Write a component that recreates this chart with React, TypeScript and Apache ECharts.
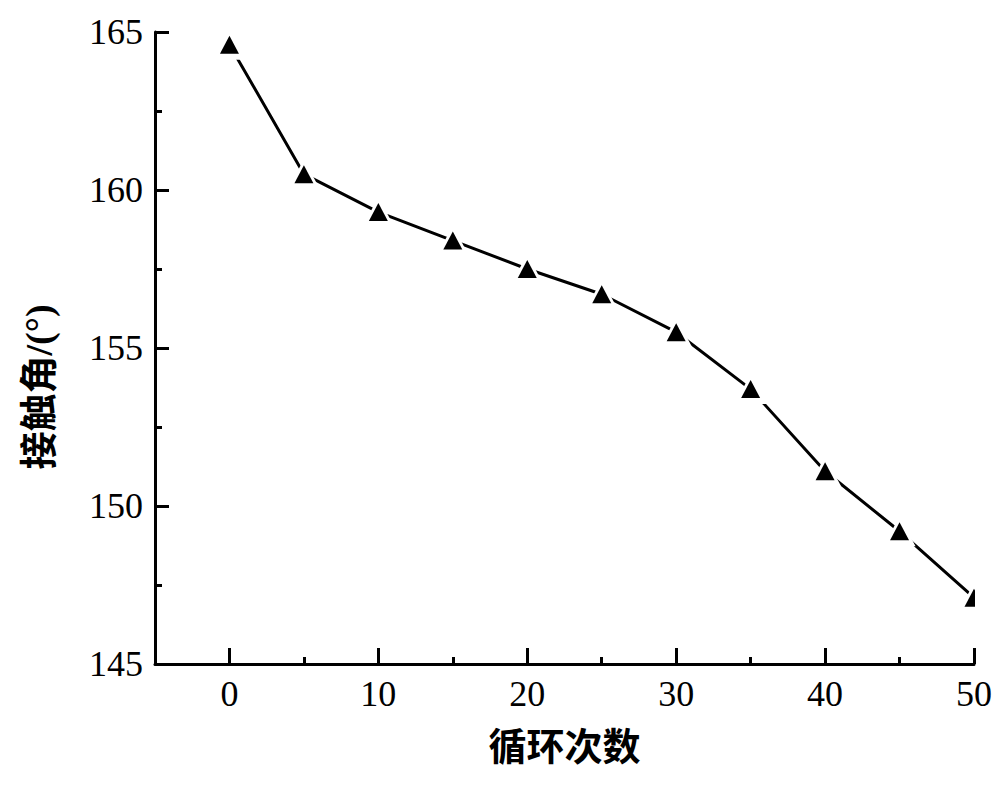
import React, { useEffect, useRef } from "react";
import * as echarts from "echarts";

const cycles = [0, 5, 10, 15, 20, 25, 30, 35, 40, 45, 50];
const contactAngle = [164.6, 160.5, 159.3, 158.4, 157.5, 156.7, 155.5, 153.7, 151.1, 149.2, 147.1];
const majorXTicks = [0, 10, 20, 30, 40, 50];
const xName = "循环次数";
const yName = "接触角/(°)";

const FONT = "'Liberation Serif', 'Noto Sans CJK SC', serif";

export default function App() {
  const ref = useRef<HTMLDivElement>(null);
  useEffect(() => {
    const chart = echarts.init(ref.current!, null, { renderer: "svg" });
    const pts = cycles.map((c, i) => [c, contactAngle[i]]);
    chart.setOption({
      animation: false,
      backgroundColor: "#ffffff",
      grid: { left: 155, right: 26, top: 32, bottom: 123, containLabel: false },
      xAxis: [
        {
          type: "value",
          min: -5,
          max: 50,
          interval: 5,
          position: "bottom",
          name: xName,
          nameLocation: "middle",
          nameGap: 64,
          nameTextStyle: { fontFamily: FONT, fontSize: 38, color: "#000", fontWeight: "bold" },
          axisLine: { show: true, onZero: false, lineStyle: { color: "#000", width: 3 } },
          axisTick: { show: true, inside: true, length: 7, lineStyle: { color: "#000", width: 3 } },
          axisLabel: {
            fontFamily: FONT,
            fontSize: 36,
            color: "#000",
            margin: 12,
            formatter: (v: number) => (v >= 0 && v % 10 === 0 ? String(v) : ""),
          },
          splitLine: { show: false },
        },
        {
          type: "value",
          min: -5,
          max: 50,
          position: "bottom",
          axisLine: { show: false, onZero: false },
          axisTick: {
            show: true,
            inside: true,
            length: 16,
            customValues: majorXTicks,
            lineStyle: { color: "#000", width: 3 },
          },
          axisLabel: { show: false },
          splitLine: { show: false },
        },
      ],
      yAxis: {
        type: "value",
        min: 145,
        max: 165,
        interval: 5,
        name: yName,
        nameLocation: "middle",
        nameGap: 97,
        nameTextStyle: {
          fontFamily: FONT,
          fontSize: 38,
          color: "#000",
          fontWeight: "bold",
          padding: [0, 78, 0, 0],
        },
        axisLine: { show: true, onZero: false, lineStyle: { color: "#000", width: 3 } },
        axisTick: { show: true, inside: true, length: 14, lineStyle: { color: "#000", width: 3 } },
        minorTick: { show: true, splitNumber: 2, length: 7, lineStyle: { color: "#000", width: 3 } },
        axisLabel: { fontFamily: FONT, fontSize: 36, color: "#000", margin: 12 },
        splitLine: { show: false },
      },
      series: [
        {
          type: "line",
          data: pts,
          xAxisIndex: 0,
          lineStyle: { color: "#000", width: 3 },
          symbol: "triangle",
          symbolSize: [32, 30],
          showSymbol: true,
          showAllSymbol: true,
          itemStyle: { color: "#fff", borderColor: "#fff", borderWidth: 0, opacity: 1 },
          z: 2,
        },
        {
          type: "scatter",
          data: pts,
          xAxisIndex: 0,
          symbol: "triangle",
          symbolSize: [19, 18],
          itemStyle: { color: "#000", opacity: 1 },
          z: 3,
        },
      ],
      graphic: [
        {
          type: "rect",
          z: 100,
          shape: { x: 975, y: 560, width: 25, height: 80 },
          style: { fill: "#fff" },
        },
      ],
    });
    return () => chart.dispose();
  }, []);
  return (
    <div
      ref={ref}
      style={{ position: "fixed", left: 0, top: 0, width: 1000, height: 787, background: "#fff" }}
    />
  );
}
